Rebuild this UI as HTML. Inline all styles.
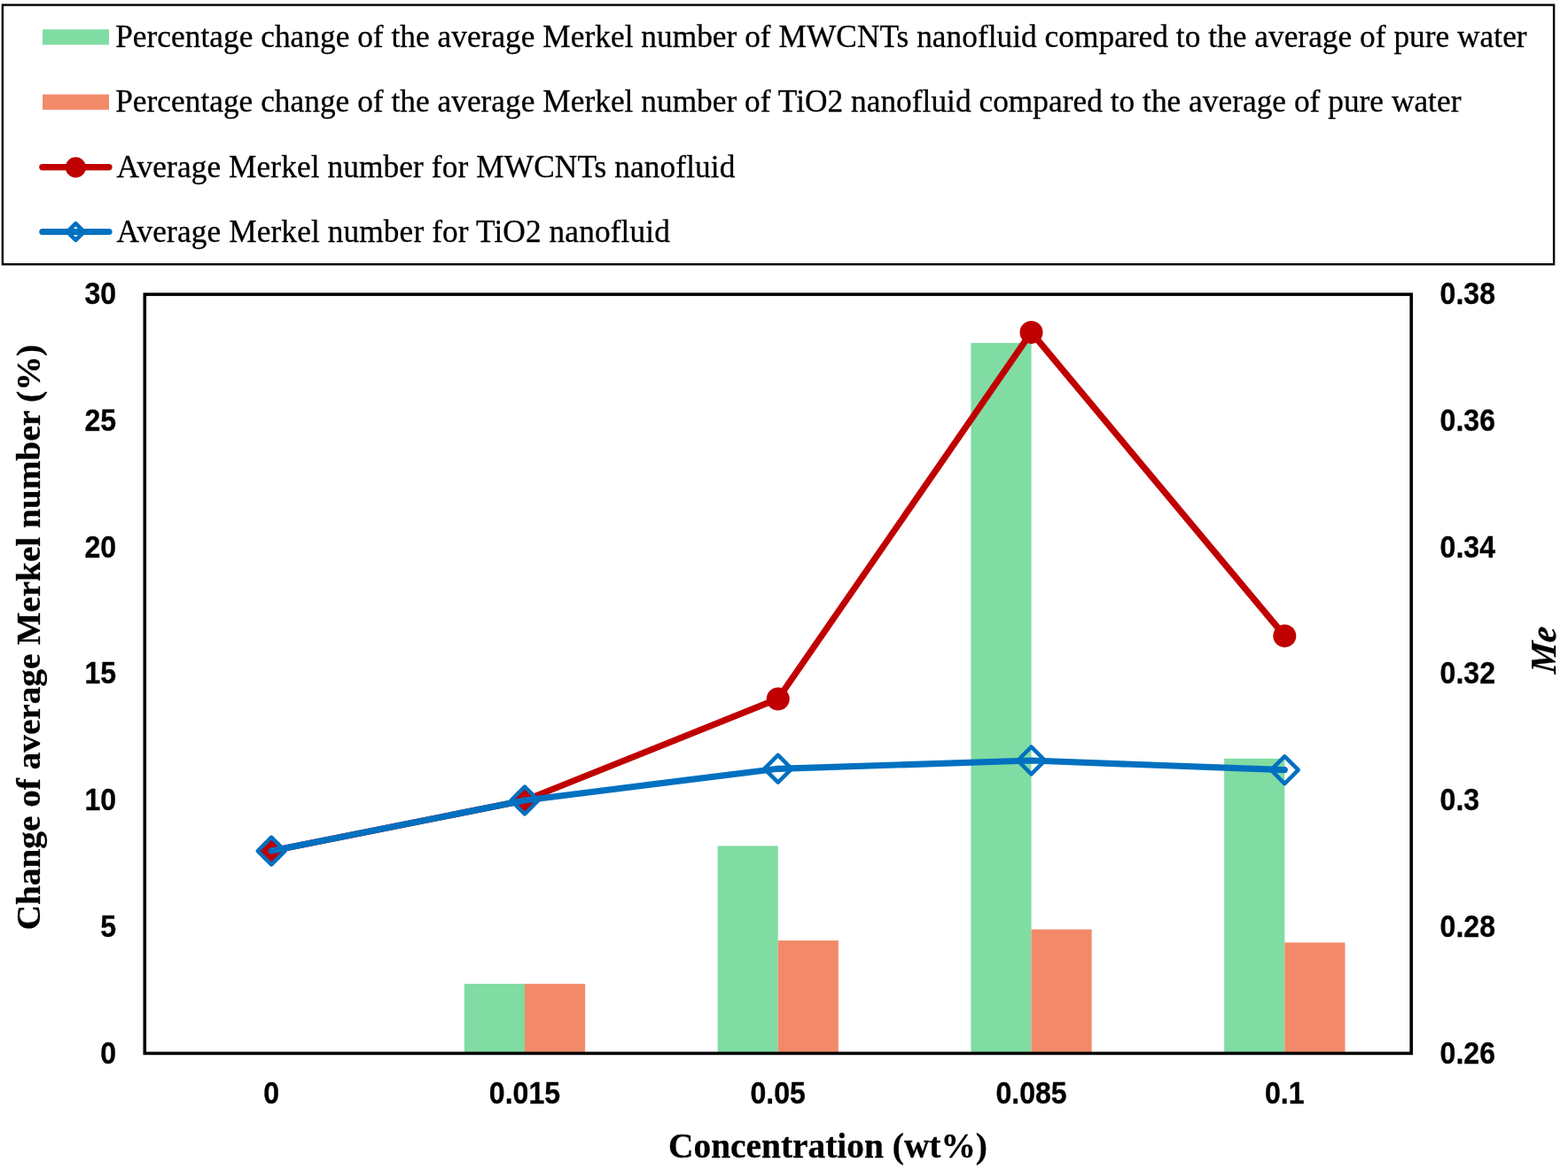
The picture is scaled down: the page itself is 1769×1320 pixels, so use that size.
<!DOCTYPE html>
<html lang="en"><head><meta charset="utf-8"><title>Merkel number chart</title>
<style>html,body{margin:0;padding:0;background:#fff}body{width:1769px;height:1320px;overflow:hidden}svg{display:block}.lg{font-family:"Liberation Serif",serif;font-size:35.34px;fill:#000;stroke:#000;stroke-width:.3px}.tk{font-family:"Liberation Sans",sans-serif;font-weight:bold;font-size:34.7px;fill:#000;stroke:#000;stroke-width:.3px}.ti{font-family:"Liberation Serif",serif;font-weight:bold;font-size:39.4px;fill:#000;stroke:#000;stroke-width:.3px}</style></head><body>
<svg width="1769" height="1320" viewBox="0 0 1769 1320">
<rect x="0" y="0" width="1769" height="1320" fill="#fff"/>
<rect x="2.9" y="5.6" width="1750.2" height="292.6" fill="#fff" stroke="#000" stroke-width="2.4"/>
<rect x="48" y="33.2" width="75" height="17.3" fill="#80dca3"/>
<rect x="48" y="106.5" width="75" height="17.3" fill="#f28a6a"/>
<line x1="47.8" y1="188.6" x2="123" y2="188.6" stroke="#c00000" stroke-width="7.2" stroke-linecap="round"/>
<circle cx="85.4" cy="188.85" r="11.55" fill="#c00000"/>
<line x1="47.8" y1="261.5" x2="123" y2="261.5" stroke="#0070c0" stroke-width="7.2" stroke-linecap="round"/>
<path d="M85.4 252.15L94.75 261.5L85.4 270.85L76.05 261.5Z" fill="none" stroke="#0070c0" stroke-width="4.7" stroke-linejoin="round"/>
<text class="lg" x="130.2" y="53.3" textLength="1592.4" lengthAdjust="spacing">Percentage change of the average Merkel number of MWCNTs nanofluid compared to the average of pure water</text>
<text class="lg" x="130.2" y="126.4" textLength="1518.2" lengthAdjust="spacing">Percentage change of the average Merkel number of TiO2 nanofluid compared to the average of pure water</text>
<text class="lg" x="131.6" y="200.3" textLength="697.8" lengthAdjust="spacing">Average Merkel number for MWCNTs nanofluid</text>
<text class="lg" x="131.6" y="273.0" textLength="624.2" lengthAdjust="spacing">Average Merkel number for TiO2 nanofluid</text>
<rect x="523.82" y="1109.91" width="68.15" height="78.49" fill="#80dca3"/>
<rect x="591.97" y="1109.91" width="68.15" height="78.49" fill="#f28a6a"/>
<rect x="809.60" y="954.34" width="68.15" height="234.06" fill="#80dca3"/>
<rect x="877.75" y="1061.10" width="68.15" height="127.30" fill="#f28a6a"/>
<rect x="1095.38" y="386.90" width="68.15" height="801.50" fill="#80dca3"/>
<rect x="1163.53" y="1048.54" width="68.15" height="139.86" fill="#f28a6a"/>
<rect x="1381.16" y="855.87" width="68.15" height="332.53" fill="#80dca3"/>
<rect x="1449.31" y="1063.38" width="68.15" height="125.02" fill="#f28a6a"/>
<rect x="163.3" y="332.1" width="1428.90" height="856.30" fill="none" stroke="#000" stroke-width="3.6"/>
<polyline points="306.19,960.05 591.97,902.97 877.75,788.44 1163.53,374.92 1449.31,717.43" fill="none" stroke="#c00000" stroke-width="7.2" stroke-linecap="round" stroke-linejoin="round"/>
<circle cx="306.19" cy="960.05" r="13" fill="#c00000"/>
<circle cx="591.97" cy="902.97" r="13" fill="#c00000"/>
<circle cx="877.75" cy="788.44" r="13" fill="#c00000"/>
<circle cx="1163.53" cy="374.92" r="13" fill="#c00000"/>
<circle cx="1449.31" cy="717.43" r="13" fill="#c00000"/>
<polyline points="306.19,960.05 591.97,902.97 877.75,867.29 1163.53,858.01 1449.31,868.71" fill="none" stroke="#0070c0" stroke-width="7.2" stroke-linecap="round" stroke-linejoin="round"/>
<path d="M306.19 944.65L321.59 960.05L306.19 975.45L290.79 960.05Z" fill="none" stroke="#0070c0" stroke-width="4.5" stroke-linejoin="round"/>
<path d="M591.97 887.57L607.37 902.97L591.97 918.37L576.57 902.97Z" fill="none" stroke="#0070c0" stroke-width="4.5" stroke-linejoin="round"/>
<path d="M877.75 851.89L893.15 867.29L877.75 882.69L862.35 867.29Z" fill="none" stroke="#0070c0" stroke-width="4.5" stroke-linejoin="round"/>
<path d="M1163.53 842.61L1178.93 858.01L1163.53 873.41L1148.13 858.01Z" fill="none" stroke="#0070c0" stroke-width="4.5" stroke-linejoin="round"/>
<path d="M1449.31 853.31L1464.71 868.71L1449.31 884.11L1433.91 868.71Z" fill="none" stroke="#0070c0" stroke-width="4.5" stroke-linejoin="round"/>
<text class="tk" transform="translate(131.1 1199.50) scale(0.925 1)" text-anchor="end">0</text>
<text class="tk" transform="translate(131.1 1056.78) scale(0.925 1)" text-anchor="end">5</text>
<text class="tk" transform="translate(131.1 914.07) scale(0.925 1)" text-anchor="end">10</text>
<text class="tk" transform="translate(131.1 771.35) scale(0.925 1)" text-anchor="end">15</text>
<text class="tk" transform="translate(131.1 628.63) scale(0.925 1)" text-anchor="end">20</text>
<text class="tk" transform="translate(131.1 485.92) scale(0.925 1)" text-anchor="end">25</text>
<text class="tk" transform="translate(131.1 343.20) scale(0.925 1)" text-anchor="end">30</text>
<text class="tk" transform="translate(1624.6 1199.50) scale(0.925 1)">0.26</text>
<text class="tk" transform="translate(1624.6 1056.78) scale(0.925 1)">0.28</text>
<text class="tk" transform="translate(1624.6 914.07) scale(0.925 1)">0.3</text>
<text class="tk" transform="translate(1624.6 771.35) scale(0.925 1)">0.32</text>
<text class="tk" transform="translate(1624.6 628.63) scale(0.925 1)">0.34</text>
<text class="tk" transform="translate(1624.6 485.92) scale(0.925 1)">0.36</text>
<text class="tk" transform="translate(1624.6 343.20) scale(0.925 1)">0.38</text>
<text class="tk" transform="translate(306.19 1244.7) scale(0.925 1)" text-anchor="middle">0</text>
<text class="tk" transform="translate(591.97 1244.7) scale(0.925 1)" text-anchor="middle">0.015</text>
<text class="tk" transform="translate(877.75 1244.7) scale(0.925 1)" text-anchor="middle">0.05</text>
<text class="tk" transform="translate(1163.53 1244.7) scale(0.925 1)" text-anchor="middle">0.085</text>
<text class="tk" transform="translate(1449.31 1244.7) scale(0.925 1)" text-anchor="middle">0.1</text>
<text class="ti" x="934" y="1305.7" text-anchor="middle">Concentration (wt%)</text>
<text class="ti" style="font-size:38.3px" transform="translate(44.7 718.9) rotate(-90) scale(1.0245 1)" text-anchor="middle">Change of average Merkel number (%)</text>
<text class="ti" style="font-size:41px;font-style:italic" transform="translate(1755.1 734.3) rotate(-90) scale(0.963 1) skewX(-5)" text-anchor="middle">Me</text>
</svg></body></html>
